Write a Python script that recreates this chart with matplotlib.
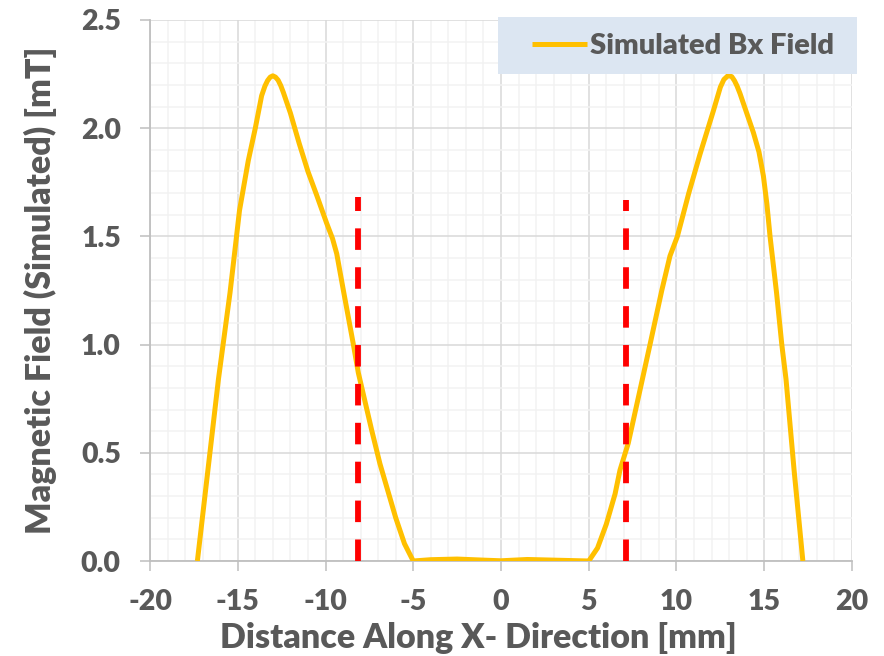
import matplotlib
matplotlib.use('Agg')
import matplotlib.pyplot as plt
from matplotlib.patches import Rectangle
from matplotlib.ticker import MultipleLocator

# simulated Bx field (x in mm, field in mT)
x_mm = [-17.3, -16.7, -16.1, -15.44, -14.9, -14.4, -14.0, -13.64, -13.45, -13.3,
        -13.15, -13.0, -12.85, -12.7, -12.55, -12.4, -12.0, -11.5, -11.0, -10.5,
        -9.93, -9.6, -9.36, -8.98, -8.41, -8.13, -7.37, -6.9, -6.0, -5.5, -5.0,
        -4.0, -2.5, -1.0, 0.0, 1.5, 3.0, 4.0,
        5.0, 5.5, 6.0, 6.5, 6.78, 7.25, 7.92, 8.49, 9.16, 9.63,
        10.05, 10.7, 11.34, 12.1, 12.5, 12.7, 12.95, 13.15, 13.3, 13.45, 13.62,
        14.38, 14.7, 14.95, 15.15, 15.33, 15.7, 16.0, 16.24, 16.7, 17.2]
bx_mT = [0.0, 0.42, 0.84, 1.24, 1.62, 1.85, 2.0, 2.15, 2.195, 2.22,
         2.236, 2.242, 2.236, 2.222, 2.197, 2.165, 2.07, 1.93, 1.80, 1.69,
         1.56, 1.49, 1.42, 1.25, 1.0, 0.87, 0.605, 0.45, 0.20, 0.08, 0.0,
         0.006, 0.009, 0.004, 0.001, 0.007, 0.004, 0.002,
         0.0, 0.06, 0.17, 0.31, 0.42, 0.544, 0.79, 1.0, 1.25, 1.41,
         1.5, 1.70, 1.88, 2.08, 2.19, 2.225, 2.244, 2.238, 2.22, 2.195, 2.16,
         1.98, 1.89, 1.78, 1.65, 1.5, 1.24, 1.0, 0.84, 0.42, 0.0]

# red dashed markers
marker_x = [-8.15, 7.15]
marker_top = [1.68, 1.67]

grey = '#595959'
plt.rcParams['font.family'] = ['Lato', 'DejaVu Sans']
plt.rcParams['font.weight'] = 'heavy'
plt.rcParams['axes.unicode_minus'] = False
plt.rcParams['lines.scale_dashes'] = False

fig = plt.figure(figsize=(8.84, 6.56), dpi=100)
ax = fig.add_axes([150/884, 1 - 561/656, 702/884, 541/656])

line, = ax.plot(x_mm, bx_mT, color='#FFC000', lw=3.6, solid_joinstyle='round',
                solid_capstyle='butt', label='Simulated Bx Field', zorder=3)

for xm, top in zip(marker_x, marker_top):
    ax.plot([xm, xm], [0, top], color='#FF0000', lw=4.2,
            dashes=(15.5, 12.5), dash_capstyle='butt', zorder=4)

ax.set_xlim(-20, 20)
ax.set_ylim(0, 2.5)
ax.xaxis.set_major_locator(MultipleLocator(5))
ax.xaxis.set_minor_locator(MultipleLocator(1))
ax.yaxis.set_major_locator(MultipleLocator(0.5))
ax.yaxis.set_minor_locator(MultipleLocator(0.1))
ax.yaxis.set_major_formatter(plt.FormatStrFormatter('%.1f'))

ax.grid(which='major', color='#D9D9D9', lw=1.1)
ax.grid(which='minor', color='#F2F2F2', lw=1.1)
ax.set_axisbelow(True)

for side in ['top', 'right']:
    ax.spines[side].set_visible(False)
for side in ['left', 'bottom']:
    ax.spines[side].set_color('#BFBFBF')
    ax.spines[side].set_linewidth(1.3)

ax.tick_params(which='major', direction='out', length=7, width=1.1,
               color='#BFBFBF', labelsize=20.5, labelcolor=grey)
ax.tick_params(axis='x', which='major', pad=13)
ax.tick_params(axis='y', which='major', pad=14)
ax.tick_params(which='minor', length=0)

ax.set_xlabel('Distance Along X- Direction [mm]', fontsize=24.5, color=grey,
              fontweight='heavy')
ax.xaxis.set_label_coords(0.468, -0.112)
ax.set_ylabel('Magnetic Field (Simulated) [mT]', fontsize=24.5, color=grey,
              fontweight='heavy')
ax.yaxis.set_label_coords(-0.133, 0.5)

# legend box sits partly outside the plot area, as in the original
fig.add_artist(Rectangle((498/884, 1 - 74/656), 359/884, 57/656,
                         transform=fig.transFigure, facecolor='#DCE6F2',
                         edgecolor='none', zorder=2))
leg = fig.legend(handles=[line], loc='center right',
                 bbox_to_anchor=(834/884, 1 - 46/656), borderaxespad=0,
                 borderpad=0, frameon=False, fontsize=21,
                 handlelength=1.9, handletextpad=0.1)
leg.set_zorder(5)
for t in leg.get_texts():
    t.set_color(grey)

fig.savefig('out.png', dpi=100)
print("Plot saved as 'out.png'")
